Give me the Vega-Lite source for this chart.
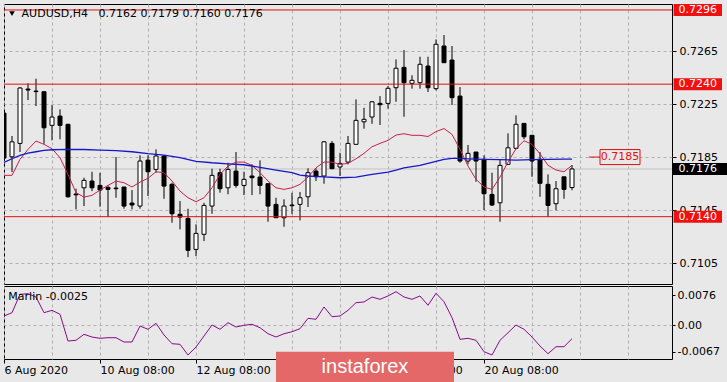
{
"$schema": "https://vega.github.io/schema/vega-lite/v6.json",
"background": "#e8e8e8",
"padding": {"left": 0, "top": 3, "right": 0, "bottom": 0},
"spacing": 0,
"config": {
  "view": {"stroke": "#000000", "strokeWidth": 1, "fill": "#e8e8e8"},
  "axis": {"labelFont": "DejaVu Sans", "labelFontSize": 11, "labelColor": "#000000", "gridColor": "#b0b0b0", "gridDash": [3, 3], "gridWidth": 1, "tickColor": "#000000", "domain": false, "labelOverlap": false, "labelFlush": false},
  "text": {"font": "DejaVu Sans", "fontSize": 11}
},
"datasets": {
  "candles": [
{"k":0,"o":0.72182,"h":0.72197,"l":0.7182,"c":0.71842},
{"k":1,"o":0.71852,"h":0.72009,"l":0.71737,"c":0.71965},
{"k":2,"o":0.71953,"h":0.72378,"l":0.71888,"c":0.72371},
{"k":3,"o":0.72363,"h":0.72406,"l":0.7228,"c":0.72356},
{"k":4,"o":0.72348,"h":0.72441,"l":0.72235,"c":0.72344},
{"k":5,"o":0.72343,"h":0.72348,"l":0.7195,"c":0.72071},
{"k":6,"o":0.72089,"h":0.72242,"l":0.71976,"c":0.72152},
{"k":7,"o":0.72159,"h":0.7221,"l":0.71984,"c":0.72089},
{"k":8,"o":0.72097,"h":0.72101,"l":0.71544,"c":0.7155},
{"k":9,"o":0.71571,"h":0.71611,"l":0.71455,"c":0.71565},
{"k":10,"o":0.71618,"h":0.71694,"l":0.7148,"c":0.71674},
{"k":11,"o":0.71669,"h":0.71739,"l":0.71593,"c":0.71618},
{"k":12,"o":0.71636,"h":0.71732,"l":0.71475,"c":0.71601},
{"k":13,"o":0.71621,"h":0.71636,"l":0.71399,"c":0.71606},
{"k":14,"o":0.71616,"h":0.7185,"l":0.71543,"c":0.71611},
{"k":15,"o":0.71624,"h":0.71624,"l":0.7146,"c":0.7148},
{"k":16,"o":0.71503,"h":0.71601,"l":0.71455,"c":0.71488},
{"k":17,"o":0.7148,"h":0.71863,"l":0.7146,"c":0.7182},
{"k":18,"o":0.71827,"h":0.71863,"l":0.71556,"c":0.71739},
{"k":19,"o":0.71757,"h":0.71908,"l":0.71732,"c":0.71858},
{"k":20,"o":0.71858,"h":0.71863,"l":0.71535,"c":0.71631},
{"k":21,"o":0.71644,"h":0.71656,"l":0.71354,"c":0.71422},
{"k":22,"o":0.71418,"h":0.71518,"l":0.71304,"c":0.71397},
{"k":23,"o":0.71387,"h":0.7146,"l":0.71095,"c":0.71146},
{"k":24,"o":0.71153,"h":0.71342,"l":0.71103,"c":0.71274},
{"k":25,"o":0.71267,"h":0.71505,"l":0.71216,"c":0.71485},
{"k":26,"o":0.7148,"h":0.71762,"l":0.71422,"c":0.71712},
{"k":27,"o":0.71732,"h":0.71762,"l":0.71581,"c":0.71611},
{"k":28,"o":0.71618,"h":0.71807,"l":0.71569,"c":0.71757},
{"k":29,"o":0.71744,"h":0.71888,"l":0.71618,"c":0.71636},
{"k":30,"o":0.71636,"h":0.71739,"l":0.71563,"c":0.71682},
{"k":31,"o":0.71707,"h":0.71795,"l":0.71563,"c":0.71694},
{"k":32,"o":0.71699,"h":0.71825,"l":0.71569,"c":0.71636},
{"k":33,"o":0.71649,"h":0.71649,"l":0.71362,"c":0.7148},
{"k":34,"o":0.71493,"h":0.71543,"l":0.7139,"c":0.71392},
{"k":35,"o":0.71392,"h":0.71531,"l":0.71324,"c":0.7148},
{"k":36,"o":0.71488,"h":0.71581,"l":0.71418,"c":0.71483},
{"k":37,"o":0.71493,"h":0.71586,"l":0.71372,"c":0.71543},
{"k":38,"o":0.7155,"h":0.71765,"l":0.71473,"c":0.71732},
{"k":39,"o":0.71744,"h":0.71765,"l":0.71669,"c":0.71701},
{"k":40,"o":0.71707,"h":0.71971,"l":0.71649,"c":0.71965},
{"k":41,"o":0.71953,"h":0.71971,"l":0.7176,"c":0.71762},
{"k":42,"o":0.71775,"h":0.71882,"l":0.71707,"c":0.71802},
{"k":43,"o":0.71812,"h":0.72009,"l":0.71795,"c":0.71953},
{"k":44,"o":0.71946,"h":0.72285,"l":0.71946,"c":0.72127},
{"k":45,"o":0.72116,"h":0.72222,"l":0.72064,"c":0.72135},
{"k":46,"o":0.72152,"h":0.72273,"l":0.72101,"c":0.72267},
{"k":47,"o":0.72255,"h":0.7231,"l":0.72092,"c":0.72245},
{"k":48,"o":0.72255,"h":0.72386,"l":0.72215,"c":0.72369},
{"k":49,"o":0.72373,"h":0.72587,"l":0.72267,"c":0.7252},
{"k":50,"o":0.72527,"h":0.72658,"l":0.72154,"c":0.72411},
{"k":51,"o":0.72406,"h":0.72467,"l":0.72366,"c":0.72429},
{"k":52,"o":0.72411,"h":0.72607,"l":0.72366,"c":0.7255},
{"k":53,"o":0.72537,"h":0.72607,"l":0.72341,"c":0.72373},
{"k":54,"o":0.72366,"h":0.72738,"l":0.72353,"c":0.72701},
{"k":55,"o":0.72688,"h":0.72771,"l":0.72562,"c":0.72562},
{"k":56,"o":0.72582,"h":0.72688,"l":0.72243,"c":0.72298},
{"k":57,"o":0.7231,"h":0.72378,"l":0.71807,"c":0.7182},
{"k":58,"o":0.7182,"h":0.71941,"l":0.71795,"c":0.71878},
{"k":59,"o":0.71888,"h":0.71888,"l":0.71664,"c":0.7182},
{"k":60,"o":0.71833,"h":0.71863,"l":0.7145,"c":0.71573},
{"k":61,"o":0.71568,"h":0.71732,"l":0.7148,"c":0.71488},
{"k":62,"o":0.71505,"h":0.71833,"l":0.71362,"c":0.71787},
{"k":63,"o":0.71795,"h":0.72029,"l":0.71795,"c":0.7192},
{"k":64,"o":0.71916,"h":0.72165,"l":0.71908,"c":0.72097},
{"k":65,"o":0.72104,"h":0.72104,"l":0.71984,"c":0.72003},
{"k":66,"o":0.72014,"h":0.72014,"l":0.71701,"c":0.7182},
{"k":67,"o":0.71833,"h":0.71888,"l":0.7155,"c":0.71652},
{"k":68,"o":0.71644,"h":0.71719,"l":0.71399,"c":0.71485},
{"k":69,"o":0.71498,"h":0.71669,"l":0.71448,"c":0.71611},
{"k":70,"o":0.71701,"h":0.71701,"l":0.71535,"c":0.71606},
{"k":71,"o":0.7162,"h":0.7179,"l":0.716,"c":0.7176}
  ],
  "ind": [
{"k":0,"red":0.71712,"m":0.00236},{"k":1,"red":0.71712,"m":0.00319},{"k":2,"red":0.71833,"m":0.00786},{"k":3,"red":0.71908,"m":0.00801},
{"k":4,"red":0.71971,"m":0.00717},{"k":5,"red":0.71946,"m":0.00319},{"k":6,"red":0.71913,"m":0.0038},{"k":7,"red":0.71845,"m":0.00279},
{"k":8,"red":0.71719,"m":-0.00398},{"k":9,"red":0.71581,"m":-0.0038},{"k":10,"red":0.71548,"m":-0.00228},{"k":11,"red":0.71561,"m":-0.00297},
{"k":12,"red":0.71601,"m":-0.0033},{"k":13,"red":0.71636,"m":-0.00314},{"k":14,"red":0.71669,"m":-0.00314},{"k":15,"red":0.71656,"m":-0.00423},
{"k":16,"red":0.71624,"m":-0.00423},{"k":17,"red":0.71661,"m":-0.00018},{"k":18,"red":0.7169,"m":-0.00101},{"k":19,"red":0.71739,"m":0.00051},
{"k":20,"red":0.71732,"m":-0.00246},{"k":21,"red":0.71669,"m":-0.00466},{"k":22,"red":0.71593,"m":-0.00482},{"k":23,"red":0.71543,"m":-0.00753},
{"k":24,"red":0.71513,"m":-0.0055},{"k":25,"red":0.71543,"m":-0.00271},{"k":26,"red":0.71618,"m":0.00008},{"k":27,"red":0.71719,"m":-0.00101},
{"k":28,"red":0.71782,"m":0.00066},{"k":29,"red":0.71812,"m":-0.00043},{"k":30,"red":0.71812,"m":0},{"k":31,"red":0.71787,"m":0.00025},
{"k":32,"red":0.71732,"m":-0.00061},{"k":33,"red":0.71669,"m":-0.00213},{"k":34,"red":0.71618,"m":-0.00297},{"k":35,"red":0.71606,"m":-0.00213},
{"k":36,"red":0.71618,"m":-0.00162},{"k":37,"red":0.71644,"m":-0.00086},{"k":38,"red":0.71699,"m":0.00177},{"k":39,"red":0.71769,"m":0.00152},
{"k":40,"red":0.71812,"m":0.00464},{"k":41,"red":0.71812,"m":0.00218},{"k":42,"red":0.71795,"m":0.00236},{"k":43,"red":0.71802,"m":0.0038},
{"k":44,"red":0.71837,"m":0.00573},{"k":45,"red":0.71878,"m":0.00591},{"k":46,"red":0.71928,"m":0.00717},{"k":47,"red":0.71953,"m":0.00659},
{"k":48,"red":0.71976,"m":0.00743},{"k":49,"red":0.72016,"m":0.00852},{"k":50,"red":0.72026,"m":0.00717},{"k":51,"red":0.72014,"m":0.00659},
{"k":52,"red":0.72014,"m":0.00743},{"k":53,"red":0.72005,"m":0.00507},{"k":54,"red":0.72042,"m":0.00811},{"k":55,"red":0.72065,"m":0.00598},
{"k":56,"red":0.72021,"m":0.00193},{"k":57,"red":0.71908,"m":-0.00355},{"k":58,"red":0.71782,"m":-0.0033},{"k":59,"red":0.71682,"m":-0.0038},
{"k":60,"red":0.71624,"m":-0.00669},{"k":61,"red":0.71606,"m":-0.00753},{"k":62,"red":0.71699,"m":-0.0038},{"k":63,"red":0.71812,"m":-0.00188},
{"k":64,"red":0.71913,"m":0.00008},{"k":65,"red":0.71973,"m":-0.00101},{"k":66,"red":0.71946,"m":-0.00297},{"k":67,"red":0.71874,"m":-0.00525},
{"k":68,"red":0.71788,"m":-0.0072},{"k":69,"red":0.71752,"m":-0.00542},{"k":70,"red":0.71739,"m":-0.00542},{"k":71,"red":0.71788,"m":-0.0034}
  ],
  "blue": [
{"k":0,"v":0.7181},{"k":1,"v":0.71837},{"k":2,"v":0.71863},{"k":3,"v":0.7188},{"k":4,"v":0.7189},{"k":5,"v":0.71901},{"k":6,"v":0.71905},
{"k":8,"v":0.71908},{"k":10,"v":0.71907},{"k":12,"v":0.71903},{"k":14,"v":0.71898},{"k":16,"v":0.7189},{"k":18,"v":0.71876},{"k":20,"v":0.71865},
{"k":22,"v":0.71845},{"k":24,"v":0.71818},{"k":26,"v":0.71807},{"k":28,"v":0.71799},{"k":30,"v":0.71792},{"k":32,"v":0.71772},{"k":34,"v":0.71752},
{"k":36,"v":0.71732},{"k":37,"v":0.71714},{"k":38,"v":0.71707},{"k":40,"v":0.71701},{"k":42,"v":0.71694},{"k":44,"v":0.71699},{"k":46,"v":0.71719},
{"k":48,"v":0.71737},{"k":49,"v":0.71752},{"k":50,"v":0.71769},{"k":52,"v":0.71787},{"k":54,"v":0.71818},{"k":55,"v":0.71833},{"k":56,"v":0.7184},
{"k":57,"v":0.7184},{"k":58,"v":0.71837},{"k":60,"v":0.71833},{"k":62,"v":0.7183},{"k":64,"v":0.71827},{"k":66,"v":0.7183},{"k":68,"v":0.71833},
{"k":70,"v":0.71835},{"k":71,"v":0.71835}
  ],
  "levels": [{"v":0.7296},{"v":0.724},{"v":0.714}]
},
"vconcat": [
{
  "width": 668, "height": 280,
  "layer": [
    {"data": {"values": [{"v": 0.7176}]},
     "mark": {"type": "rule", "color": "#c2c2c2", "strokeWidth": 1},
     "encoding": {"y": {"field": "v", "type": "quantitative", "title": null}}},
    {"data": {"name": "candles"},
     "mark": {"type": "rule", "color": "#000000", "strokeWidth": 1, "clip": true},
     "encoding": {
       "x": {"field": "k", "type": "quantitative", "title": null,
             "scale": {"domain": [0, 83.5], "nice": false, "zero": false, "padding": 0},
             "axis": {"values": [0,6,12,18,24,30,36,42,48,54,60,66,72,78], "grid": true, "labels": false, "ticks": false, "domain": false, "tickCount": 20}},
       "y": {"field": "l", "type": "quantitative", "title": null,
             "scale": {"domain": [0.70892, 0.73005], "nice": false, "zero": false, "padding": 0},
             "axis": {"orient": "right", "values": [0.7105, 0.7145, 0.7185, 0.7225, 0.7265], "format": ".4f", "tickSize": 4, "labelPadding": 3, "grid": true, "tickCount": 10}},
       "y2": {"field": "h"}
     }},
    {"data": {"name": "candles"},
     "mark": {"type": "bar", "size": 4, "stroke": "#000000", "strokeWidth": 1, "clip": true},
     "encoding": {
       "x": {"field": "k", "type": "quantitative", "title": null},
       "y": {"field": "o", "type": "quantitative", "title": null},
       "y2": {"field": "c"},
       "fill": {"condition": {"test": "datum.c >= datum.o", "value": "#ffffff"}, "value": "#000000"}
     }},
    {"data": {"name": "levels"},
     "mark": {"type": "rule", "color": "#e01010", "strokeWidth": 1},
     "encoding": {"y": {"field": "v", "type": "quantitative", "title": null}}},
    {"data": {"name": "ind"},
     "mark": {"type": "line", "color": "#c8204a", "strokeWidth": 1},
     "encoding": {"x": {"field": "k", "type": "quantitative", "title": null}, "y": {"field": "red", "type": "quantitative", "title": null}}},
    {"data": {"name": "blue"},
     "mark": {"type": "line", "color": "#1818c8", "strokeWidth": 1.3},
     "encoding": {"x": {"field": "k", "type": "quantitative", "title": null}, "y": {"field": "v", "type": "quantitative", "title": null}}},
    {"data": {"values": [{"v": 0.7185}]},
     "mark": {"type": "rule", "color": "#e01010", "strokeWidth": 1},
     "encoding": {"x": {"datum": 73.1}, "x2": {"datum": 74.5}, "y": {"field": "v", "type": "quantitative", "title": null}}},
    {"data": {"values": [{"v": 0.7185}]},
     "mark": {"type": "bar", "size": 15, "fill": "#e8e8e8", "stroke": "#e01010", "strokeWidth": 1},
     "encoding": {"x": {"datum": 74.5}, "x2": {"datum": 79.5}, "y": {"field": "v", "type": "quantitative", "title": null}}},
    {"data": {"values": [{"v": 0.7185}]},
     "mark": {"type": "text", "color": "#e01010", "align": "center", "baseline": "middle"},
     "encoding": {"x": {"datum": 77}, "y": {"field": "v", "type": "quantitative", "title": null}, "text": {"field": "v", "format": ".4f"}}},
    {"data": {"name": "levels"},
     "mark": {"type": "bar", "size": 12, "fill": "#f01010", "clip": false},
     "encoding": {"x": {"datum": 83.7}, "x2": {"datum": 89.75}, "y": {"field": "v", "type": "quantitative", "title": null}}},
    {"data": {"name": "levels"},
     "mark": {"type": "text", "color": "#ffffff", "align": "left", "baseline": "middle", "clip": false},
     "encoding": {"x": {"datum": 84.3}, "y": {"field": "v", "type": "quantitative", "title": null}, "text": {"field": "v", "format": ".4f"}}},
    {"data": {"values": [{"v": 0.7176}]},
     "mark": {"type": "bar", "size": 12, "fill": "#000000", "clip": false},
     "encoding": {"x": {"datum": 83.5}, "x2": {"datum": 90.6}, "y": {"field": "v", "type": "quantitative", "title": null}}},
    {"data": {"values": [{"v": 0.7176}]},
     "mark": {"type": "text", "color": "#ffffff", "align": "left", "baseline": "middle", "clip": false},
     "encoding": {"x": {"datum": 84.3}, "y": {"field": "v", "type": "quantitative", "title": null}, "text": {"field": "v", "format": ".4f"}}},
    {"data": {"values": [{"t": "▼"}]},
     "mark": {"type": "point", "shape": "triangle-down", "filled": true, "size": 30, "color": "#000000", "opacity": 1},
     "encoding": {"x": {"datum": 1.0}, "y": {"datum": 0.72932}}},
    {"data": {"values": [{"t": "AUDUSD,H4\u00a0\u00a0 0.7162 0.7179 0.7160 0.7176"}]},
     "mark": {"type": "text", "color": "#000000", "align": "left", "baseline": "middle"},
     "encoding": {"x": {"datum": 2.2}, "y": {"datum": 0.72932}, "text": {"field": "t"}}}
  ]
},
{
  "width": 668, "height": 73,
  "layer": [
    {"data": {"name": "ind"},
     "mark": {"type": "line", "color": "#8a0a8a", "strokeWidth": 1},
     "encoding": {
       "x": {"field": "k", "type": "quantitative", "title": null,
             "scale": {"domain": [0, 83.5], "nice": false, "zero": false, "padding": 0},
             "axis": {"values": [0,6,12,18,24,30,36,42,48,54,60,66,72,78], "grid": true, "tickSize": 4, "tickCount": 20,
                      "tickOpacity": {"condition": {"test": "datum.value % 12 === 0 && datum.value <= 60", "value": 1}, "value": 0},
                      "labelAlign": "left", "labelPadding": 1,
                      "labelExpr": "datum.value == 0 ? '6 Aug 2020' : datum.value == 12 ? '10 Aug 08:00' : datum.value == 24 ? '12 Aug 08:00' : datum.value == 36 ? '14 Aug 08:00' : datum.value == 48 ? '18 Aug 08:00' : datum.value == 60 ? '20 Aug 08:00' : ''"}},
       "y": {"field": "m", "type": "quantitative", "title": null,
             "scale": {"domain": [-0.00854, 0.00996], "nice": false, "zero": false, "padding": 0},
             "axis": {"orient": "right", "values": [0.0076, 0, -0.0067], "tickCount": 5, "tickSize": 3, "labelPadding": 2,
                      "labelExpr": "datum.value > 0.001 ? '0.0076' : datum.value < -0.001 ? '-0.0067' : '0.00'",
                      "gridOpacity": {"condition": {"test": "datum.value === 0", "value": 1}, "value": 0}}}
     }},
    {"data": {"values": [{"t": "Marlin -0.0025"}]},
     "mark": {"type": "text", "color": "#000000", "align": "left", "baseline": "middle"},
     "encoding": {"x": {"datum": 0.54}, "y": {"datum": 0.00717}, "text": {"field": "t"}}},
    {"data": {"values": [{"t": "instaforex"}]},
     "mark": {"type": "rect", "fill": "#e46868", "clip": false},
     "encoding": {"x": {"datum": 34}, "x2": {"datum": 56.25}, "y": {"datum": -0.00669}, "y2": {"datum": -0.0147}}},
    {"data": {"values": [{"t": "instaforex"}]},
     "mark": {"type": "text", "color": "#ffffff", "align": "left", "baseline": "middle", "font": "Liberation Sans", "fontSize": 20, "clip": false},
     "encoding": {"x": {"datum": 39.7}, "y": {"datum": -0.0105}, "text": {"field": "t"}}}
  ]
}
]
}
